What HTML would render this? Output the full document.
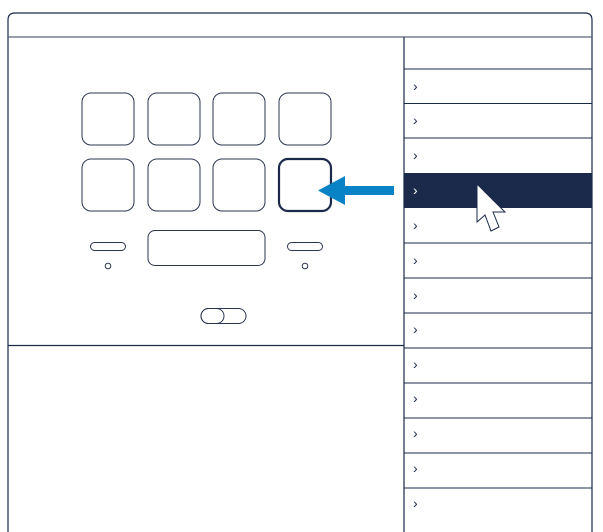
<!DOCTYPE html>
<html><head><style>body{margin:0;background:#fff}svg{display:block}</style></head><body>
<svg width="603" height="532" viewBox="0 0 603 532" xmlns="http://www.w3.org/2000/svg">
<g fill="none" stroke="#1b2a4a" stroke-width="1.2">
<path d="M8 540 V20 Q8 13 15 13 H585 Q592 13 592 20 V540"/>
<line x1="8" y1="37" x2="592" y2="37" stroke="#5a6378"/>
<line x1="404" y1="37" x2="404" y2="532"/>
<line x1="8" y1="345.5" x2="404" y2="345.5"/>
</g>
<rect x="404" y="173" width="188" height="35" fill="#1b2a4a"/>
<g stroke="#1b2a4a" stroke-width="1">
<line x1="404" y1="69" x2="592" y2="69"/><line x1="404" y1="103.5" x2="592" y2="103.5"/>
<line x1="404" y1="138" x2="592" y2="138"/><line x1="404" y1="243" x2="592" y2="243"/>
<line x1="404" y1="278" x2="592" y2="278"/><line x1="404" y1="313" x2="592" y2="313"/>
<line x1="404" y1="348" x2="592" y2="348"/><line x1="404" y1="383" x2="592" y2="383"/>
<line x1="404" y1="418" x2="592" y2="418"/><line x1="404" y1="453" x2="592" y2="453"/>
<line x1="404" y1="488" x2="592" y2="488"/>
</g>
<g font-family="Liberation Sans, sans-serif" font-size="14" fill="#1b2a4a">
<text x="413" y="91">›</text><text x="413" y="125">›</text><text x="413" y="160">›</text>
<text x="413" y="195" fill="#fff">›</text><text x="413" y="230">›</text><text x="413" y="265">›</text>
<text x="413" y="300">›</text><text x="413" y="334">›</text><text x="413" y="369">›</text>
<text x="413" y="403">›</text><text x="413" y="438">›</text><text x="413" y="473">›</text>
<text x="413" y="508">›</text>
</g>
<g fill="none" stroke="#2a3550" stroke-width="1">
<rect x="82" y="93" width="52" height="52" rx="9"/><rect x="148" y="93" width="52" height="52" rx="9"/>
<rect x="213" y="93" width="52" height="52" rx="9"/><rect x="279" y="93" width="52" height="52" rx="9"/>
<rect x="82" y="159" width="52" height="52" rx="9"/><rect x="148" y="159" width="52" height="52" rx="9"/>
<rect x="213" y="159" width="52" height="52" rx="9"/>
<rect x="279" y="159" width="52" height="52" rx="9" stroke-width="2.2" stroke="#1b2a4a"/>
<rect x="90.5" y="242.5" width="35" height="8" rx="4"/><circle cx="108" cy="266" r="2.8"/>
<rect x="287.5" y="242.5" width="35" height="8" rx="4"/><circle cx="305" cy="266" r="2.8"/>
<rect x="148" y="230.5" width="117" height="35" rx="7"/>
<rect x="201" y="308.5" width="45" height="15" rx="7.5"/>
<rect x="201" y="308.5" width="23" height="15" rx="7.5"/>
</g>
<path d="M394 186 H345 V176 L318 190.5 L345 205 V195 H394 Z" fill="#0a82c6"/>
<path d="M477 184 V222 L485 215 L491 231 L499 227 L493 212 L505 212 Z" fill="#fff" stroke="#1b2a4a" stroke-width="1"/>
</svg>
</body></html>
